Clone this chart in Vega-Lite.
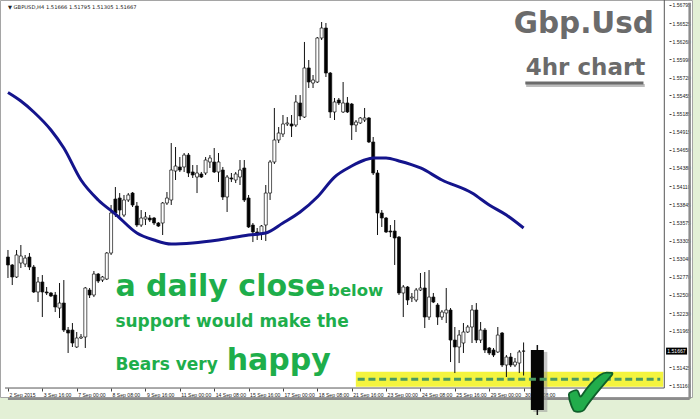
{
  "$schema": "https://vega.github.io/schema/vega-lite/v6.json",
  "width": 692,
  "height": 397,
  "autosize": {"type": "none"},
  "padding": {"left": 0, "top": 0, "right": 8, "bottom": 22},
  "background": "#e3f0d6",
  "config": {"view": {"fill": "white", "stroke": "#a5a5a5", "strokeWidth": 1}, "axis": {"labelOverlap": false}},
  "datasets": {
    "candles": [
      {"i":0,"o":1.53061,"h":1.53165,"l":1.52750,"c":1.52943},
      {"i":1,"o":1.52943,"h":1.52957,"l":1.52646,"c":1.52765},
      {"i":2,"o":1.52765,"h":1.53165,"l":1.52750,"c":1.53091},
      {"i":3,"o":1.52972,"h":1.53239,"l":1.52898,"c":1.53076},
      {"i":4,"o":1.52957,"h":1.53091,"l":1.52913,"c":1.53046},
      {"i":5,"o":1.53061,"h":1.53120,"l":1.52868,"c":1.52913},
      {"i":6,"o":1.52913,"h":1.52943,"l":1.52528,"c":1.52543},
      {"i":7,"o":1.52543,"h":1.52765,"l":1.52394,"c":1.52691},
      {"i":8,"o":1.52691,"h":1.52794,"l":1.52172,"c":1.52543},
      {"i":9,"o":1.52543,"h":1.52617,"l":1.52498,"c":1.52528},
      {"i":10,"o":1.52528,"h":1.52543,"l":1.52468,"c":1.52483},
      {"i":11,"o":1.52498,"h":1.52543,"l":1.52246,"c":1.52320},
      {"i":12,"o":1.52305,"h":1.52676,"l":1.52157,"c":1.52379},
      {"i":13,"o":1.52379,"h":1.52720,"l":1.51950,"c":1.51979},
      {"i":14,"o":1.51979,"h":1.52024,"l":1.51639,"c":1.51935},
      {"i":15,"o":1.51979,"h":1.52083,"l":1.51728,"c":1.51787},
      {"i":16,"o":1.51728,"h":1.51950,"l":1.51713,"c":1.51861},
      {"i":17,"o":1.51861,"h":1.51920,"l":1.51846,"c":1.51876},
      {"i":18,"o":1.51876,"h":1.52617,"l":1.51713,"c":1.52602},
      {"i":19,"o":1.52572,"h":1.52602,"l":1.52454,"c":1.52498},
      {"i":20,"o":1.52498,"h":1.52854,"l":1.52468,"c":1.52809},
      {"i":21,"o":1.52809,"h":1.52824,"l":1.52676,"c":1.52705},
      {"i":22,"o":1.52720,"h":1.52780,"l":1.52691,"c":1.52765},
      {"i":23,"o":1.52735,"h":1.53135,"l":1.52720,"c":1.53120},
      {"i":24,"o":1.53120,"h":1.53832,"l":1.53091,"c":1.53713},
      {"i":25,"o":1.53920,"h":1.54098,"l":1.53654,"c":1.53713},
      {"i":26,"o":1.53935,"h":1.54009,"l":1.53639,"c":1.53757},
      {"i":27,"o":1.53683,"h":1.53980,"l":1.53654,"c":1.53906},
      {"i":28,"o":1.53906,"h":1.54009,"l":1.53876,"c":1.53980},
      {"i":29,"o":1.54009,"h":1.54024,"l":1.53802,"c":1.53832},
      {"i":30,"o":1.53817,"h":1.53876,"l":1.53506,"c":1.53535},
      {"i":31,"o":1.53535,"h":1.53757,"l":1.53506,"c":1.53639},
      {"i":32,"o":1.53624,"h":1.53728,"l":1.53535,"c":1.53654},
      {"i":33,"o":1.53639,"h":1.53683,"l":1.53580,"c":1.53609},
      {"i":34,"o":1.53639,"h":1.53654,"l":1.53535,"c":1.53565},
      {"i":35,"o":1.53565,"h":1.53580,"l":1.53506,"c":1.53520},
      {"i":36,"o":1.53565,"h":1.53876,"l":1.53387,"c":1.53861},
      {"i":37,"o":1.53861,"h":1.54024,"l":1.53832,"c":1.53935},
      {"i":38,"o":1.53906,"h":1.54750,"l":1.53832,"c":1.54350},
      {"i":39,"o":1.54335,"h":1.54691,"l":1.54202,"c":1.54409},
      {"i":40,"o":1.54395,"h":1.54543,"l":1.54321,"c":1.54350},
      {"i":41,"o":1.54395,"h":1.54602,"l":1.54321,"c":1.54572},
      {"i":42,"o":1.54572,"h":1.54602,"l":1.54246,"c":1.54306},
      {"i":43,"o":1.54321,"h":1.54424,"l":1.54232,"c":1.54276},
      {"i":44,"o":1.54246,"h":1.54424,"l":1.54009,"c":1.54306},
      {"i":45,"o":1.54291,"h":1.54321,"l":1.54232,"c":1.54246},
      {"i":46,"o":1.54306,"h":1.54543,"l":1.54276,"c":1.54498},
      {"i":47,"o":1.54469,"h":1.54572,"l":1.54380,"c":1.54528},
      {"i":48,"o":1.54469,"h":1.54676,"l":1.54306,"c":1.54321},
      {"i":49,"o":1.54321,"h":1.54602,"l":1.54172,"c":1.54469},
      {"i":50,"o":1.54350,"h":1.54395,"l":1.53906,"c":1.53950},
      {"i":51,"o":1.53950,"h":1.54276,"l":1.53728,"c":1.54246},
      {"i":52,"o":1.54232,"h":1.54306,"l":1.54172,"c":1.54217},
      {"i":53,"o":1.54202,"h":1.54321,"l":1.54157,"c":1.54291},
      {"i":54,"o":1.54246,"h":1.54498,"l":1.54128,"c":1.54350},
      {"i":55,"o":1.54380,"h":1.54498,"l":1.53876,"c":1.53906},
      {"i":56,"o":1.53935,"h":1.53980,"l":1.53491,"c":1.53506},
      {"i":57,"o":1.53535,"h":1.53565,"l":1.53283,"c":1.53432},
      {"i":58,"o":1.53432,"h":1.53491,"l":1.53313,"c":1.53387},
      {"i":59,"o":1.53417,"h":1.53535,"l":1.53313,"c":1.53520},
      {"i":60,"o":1.53535,"h":1.54128,"l":1.53298,"c":1.54009},
      {"i":61,"o":1.54009,"h":1.54498,"l":1.53906,"c":1.54469},
      {"i":62,"o":1.54469,"h":1.55269,"l":1.54439,"c":1.54795},
      {"i":63,"o":1.54795,"h":1.54987,"l":1.54750,"c":1.54898},
      {"i":64,"o":1.54884,"h":1.55165,"l":1.54839,"c":1.55032},
      {"i":65,"o":1.55032,"h":1.55135,"l":1.55002,"c":1.55047},
      {"i":66,"o":1.55032,"h":1.55165,"l":1.54839,"c":1.55002},
      {"i":67,"o":1.55017,"h":1.55461,"l":1.54987,"c":1.55358},
      {"i":68,"o":1.55343,"h":1.55461,"l":1.55091,"c":1.55150},
      {"i":69,"o":1.55135,"h":1.56247,"l":1.55121,"c":1.55862},
      {"i":70,"o":1.55862,"h":1.55980,"l":1.55565,"c":1.55654},
      {"i":71,"o":1.55639,"h":1.55758,"l":1.55565,"c":1.55684},
      {"i":72,"o":1.55654,"h":1.56321,"l":1.55639,"c":1.56306},
      {"i":73,"o":1.56306,"h":1.56543,"l":1.56276,"c":1.56454},
      {"i":74,"o":1.56454,"h":1.56528,"l":1.55728,"c":1.55787},
      {"i":75,"o":1.55787,"h":1.55802,"l":1.55121,"c":1.55210},
      {"i":76,"o":1.55210,"h":1.55417,"l":1.55091,"c":1.55358},
      {"i":77,"o":1.55387,"h":1.55417,"l":1.55313,"c":1.55343},
      {"i":78,"o":1.55210,"h":1.55654,"l":1.55195,"c":1.55343},
      {"i":79,"o":1.55343,"h":1.55432,"l":1.55195,"c":1.55210},
      {"i":80,"o":1.55328,"h":1.55343,"l":1.54795,"c":1.55017},
      {"i":81,"o":1.55017,"h":1.55091,"l":1.54913,"c":1.55061},
      {"i":82,"o":1.55047,"h":1.55135,"l":1.55032,"c":1.55121},
      {"i":83,"o":1.55091,"h":1.55269,"l":1.55061,"c":1.55121},
      {"i":84,"o":1.55121,"h":1.55135,"l":1.54750,"c":1.54765},
      {"i":85,"o":1.54765,"h":1.54839,"l":1.54276,"c":1.54306},
      {"i":86,"o":1.54306,"h":1.54350,"l":1.53387,"c":1.53713},
      {"i":87,"o":1.53713,"h":1.53757,"l":1.53506,"c":1.53639},
      {"i":88,"o":1.53639,"h":1.53654,"l":1.53417,"c":1.53432},
      {"i":89,"o":1.53446,"h":1.53535,"l":1.53357,"c":1.53432},
      {"i":90,"o":1.53446,"h":1.53609,"l":1.52943,"c":1.53343},
      {"i":91,"o":1.53357,"h":1.53372,"l":1.52498,"c":1.52528},
      {"i":92,"o":1.52528,"h":1.52646,"l":1.52172,"c":1.52617},
      {"i":93,"o":1.52617,"h":1.52631,"l":1.52350,"c":1.52424},
      {"i":94,"o":1.52454,"h":1.52528,"l":1.52394,"c":1.52468},
      {"i":95,"o":1.52424,"h":1.52602,"l":1.52394,"c":1.52572},
      {"i":96,"o":1.52572,"h":1.52824,"l":1.52557,"c":1.52602},
      {"i":97,"o":1.52602,"h":1.52839,"l":1.52009,"c":1.52172},
      {"i":98,"o":1.52172,"h":1.52868,"l":1.52128,"c":1.52468},
      {"i":99,"o":1.52468,"h":1.52528,"l":1.52379,"c":1.52394},
      {"i":100,"o":1.52350,"h":1.52379,"l":1.52054,"c":1.52172},
      {"i":101,"o":1.52172,"h":1.52276,"l":1.52128,"c":1.52246},
      {"i":102,"o":1.52231,"h":1.52602,"l":1.52083,"c":1.52276},
      {"i":103,"o":1.52276,"h":1.52305,"l":1.51505,"c":1.51831},
      {"i":104,"o":1.51831,"h":1.52024,"l":1.51342,"c":1.51728},
      {"i":105,"o":1.51728,"h":1.51979,"l":1.51490,"c":1.51905},
      {"i":106,"o":1.51787,"h":1.52083,"l":1.51639,"c":1.51950},
      {"i":107,"o":1.51950,"h":1.52054,"l":1.51935,"c":1.52024},
      {"i":108,"o":1.52024,"h":1.52350,"l":1.51787,"c":1.52276},
      {"i":109,"o":1.52276,"h":1.52379,"l":1.51787,"c":1.51831},
      {"i":110,"o":1.51831,"h":1.52098,"l":1.51787,"c":1.51979},
      {"i":111,"o":1.51979,"h":1.52009,"l":1.51639,"c":1.51683},
      {"i":112,"o":1.51713,"h":1.51728,"l":1.51609,"c":1.51639},
      {"i":113,"o":1.51683,"h":1.51713,"l":1.51579,"c":1.51609},
      {"i":114,"o":1.51654,"h":1.52024,"l":1.51639,"c":1.51905},
      {"i":115,"o":1.51935,"h":1.51950,"l":1.51431,"c":1.51461},
      {"i":116,"o":1.51461,"h":1.51609,"l":1.51283,"c":1.51579},
      {"i":117,"o":1.51579,"h":1.51639,"l":1.51431,"c":1.51461},
      {"i":118,"o":1.51461,"h":1.51565,"l":1.51431,"c":1.51505},
      {"i":119,"o":1.51490,"h":1.51683,"l":1.51342,"c":1.51654},
      {"i":120,"o":1.51666,"h":1.51795,"l":1.51305,"c":1.51667}
    ],
    "ma": [
      {"i":0,"v":1.55498},{"i":3,"v":1.55372},{"i":6,"v":1.55210},{"i":10,"v":1.54943},
      {"i":13,"v":1.54676},{"i":17,"v":1.54202},{"i":21,"v":1.53906},{"i":25,"v":1.53698},
      {"i":30,"v":1.53417},{"i":34,"v":1.53313},{"i":38,"v":1.53254},{"i":43,"v":1.53269},
      {"i":49,"v":1.53313},{"i":56,"v":1.53387},{"i":60,"v":1.53417},{"i":64,"v":1.53565},
      {"i":68,"v":1.53728},{"i":72,"v":1.53950},{"i":76,"v":1.54246},{"i":80,"v":1.54409},
      {"i":83,"v":1.54498},{"i":85,"v":1.54528},{"i":88,"v":1.54528},{"i":91,"v":1.54484},
      {"i":96,"v":1.54380},{"i":101,"v":1.54202},{"i":108,"v":1.54009},{"i":112,"v":1.53832},
      {"i":116,"v":1.53683},{"i":120,"v":1.53491}
    ]
  },
  "layer": [
    {
      "data": {"values": [{}]},
      "mark": {"type": "rect", "color": "#f4f43e"},
      "encoding": {
        "x": {"datum": 80.96, "type": "quantitative", "scale": {"domain": [-0.688, 158.03], "nice": false, "zero": false}},
        "x2": {"datum": 152.5},
        "y": {"datum": 1.51362, "type": "quantitative", "scale": {"domain": [1.50987, 1.56869], "nice": false, "zero": false}},
        "y2": {"datum": 1.51139}
      }
    },
    {
      "data": {"name": "candles"},
      "mark": {"type": "rule", "color": "#111111", "strokeWidth": 1},
      "encoding": {
        "x": {"field": "i", "type": "quantitative", "scale": {"domain": [-0.688, 158.03], "nice": false, "zero": false},
          "axis": {"orient": "bottom", "offset": -9, "title": null, "domain": false, "grid": false, "tickCount": 40,
            "values": [0,8,16,24,32,40,48,56,64,72,80,88,96,104,112,120],
            "labelExpr": "['2 Sep 2015','3 Sep 16:00','7 Sep 00:00','8 Sep 08:00','9 Sep 16:00','11 Sep 00:00','14 Sep 08:00','15 Sep 16:00','17 Sep 00:00','18 Sep 08:00','21 Sep 16:00','23 Sep 00:00','24 Sep 08:00','25 Sep 16:00','29 Sep 00:00','30 Sep 08:00'][round(datum.value/8)]",
            "tickSize": 3, "tickColor": "#444444", "labelAlign": "left", "labelOffset": 1, "labelPadding": 1,
            "labelFont": "Liberation Sans", "labelFontSize": 5.1, "labelColor": "#222222",
            "labelOverlap": false, "labelFlush": false, "labelBound": false}},
        "y": {"field": "l", "type": "quantitative", "scale": {"domain": [1.50987, 1.56869], "nice": false, "zero": false},
          "axis": {"orient": "right", "offset": -23, "title": null, "domain": false, "grid": false, "tickCount": 60,
            "values": [1.56795,1.56525,1.5626,1.5599,1.5572,1.55455,1.55185,1.54915,1.5465,1.5438,1.5411,1.53845,1.53575,1.53305,1.5304,1.5277,1.525,1.5223,1.51965,1.51425,1.5116],
            "format": ".5f", "tickSize": 2, "tickColor": "#444444", "labelPadding": 1,
            "labelFont": "Liberation Sans", "labelFontSize": 5.1, "labelColor": "#222222",
            "labelOverlap": false, "labelFlush": false, "labelBound": false}},
        "y2": {"field": "h"}
      }
    },
    {
      "data": {"name": "candles"},
      "mark": {"type": "bar", "size": 3, "stroke": "#111111", "strokeWidth": 0.7},
      "encoding": {
        "x": {"field": "i", "type": "quantitative", "scale": {"domain": [-0.688, 158.03], "nice": false, "zero": false}},
        "y": {"field": "o", "type": "quantitative", "scale": {"domain": [1.50987, 1.56869], "nice": false, "zero": false}},
        "y2": {"field": "c"},
        "fill": {"condition": {"test": "datum.c >= datum.o", "value": "white"}, "value": "black"}
      }
    },
    {
      "data": {"name": "ma"},
      "mark": {"type": "line", "color": "#14148c", "strokeWidth": 3, "interpolate": "monotone"},
      "encoding": {
        "x": {"field": "i", "type": "quantitative", "scale": {"domain": [-0.688, 158.03], "nice": false, "zero": false}},
        "y": {"field": "v", "type": "quantitative", "scale": {"domain": [1.50987, 1.56869], "nice": false, "zero": false}}
      }
    },
    {
      "data": {"values": [{}]},
      "mark": {"type": "rule", "color": "#555555", "strokeWidth": 1},
      "encoding": {
        "x": {"datum": 152.75, "type": "quantitative", "scale": {"domain": [-0.688, 158.03], "nice": false, "zero": false}},
        "y": {"datum": 1.56869, "type": "quantitative", "scale": {"domain": [1.50987, 1.56869], "nice": false, "zero": false}},
        "y2": {"datum": 1.5112}
      }
    },
    {
      "data": {"values": [{}]},
      "mark": {"type": "rule", "color": "#555555", "strokeWidth": 1},
      "encoding": {
        "x": {"datum": -0.688, "type": "quantitative", "scale": {"domain": [-0.688, 158.03], "nice": false, "zero": false}},
        "x2": {"datum": 152.75},
        "y": {"datum": 1.5112, "type": "quantitative", "scale": {"domain": [1.50987, 1.56869], "nice": false, "zero": false}}
      }
    },
    {
      "data": {"values": [{}]},
      "mark": {"type": "rule", "color": "#8c8c8c", "strokeWidth": 2.5},
      "encoding": {
        "x": {"datum": 0.0, "type": "quantitative", "scale": {"domain": [-0.688, 158.03], "nice": false, "zero": false}},
        "x2": {"datum": 158.65},
        "y": {"datum": 1.50962, "type": "quantitative", "scale": {"domain": [1.50987, 1.56869], "nice": false, "zero": false}}
      }
    },
    {
      "data": {"values": [{}]},
      "mark": {"type": "rule", "color": "#8c8c8c", "strokeWidth": 2.5},
      "encoding": {
        "x": {"datum": 158.65, "type": "quantitative", "scale": {"domain": [-0.688, 158.03], "nice": false, "zero": false}},
        "y": {"datum": 1.5683, "type": "quantitative", "scale": {"domain": [1.50987, 1.56869], "nice": false, "zero": false}},
        "y2": {"datum": 1.50962}
      }
    },
    {
      "data": {"values": [{}]},
      "mark": {"type": "bar", "size": 14, "color": "#9a9a9a", "opacity": 0.55},
      "encoding": {
        "x": {"datum": 123.9, "type": "quantitative", "scale": {"domain": [-0.688, 158.03], "nice": false, "zero": false}},
        "y": {"datum": 1.51655, "type": "quantitative", "scale": {"domain": [1.50987, 1.56869], "nice": false, "zero": false}},
        "y2": {"datum": 1.50765}
      }
    },
    {
      "data": {"values": [{}]},
      "mark": {"type": "rule", "color": "#111111", "strokeWidth": 1.5},
      "encoding": {
        "x": {"datum": 123.2, "type": "quantitative", "scale": {"domain": [-0.688, 158.03], "nice": false, "zero": false}},
        "y": {"datum": 1.51757, "type": "quantitative", "scale": {"domain": [1.50987, 1.56869], "nice": false, "zero": false}},
        "y2": {"datum": 1.5072}
      }
    },
    {
      "data": {"values": [{}]},
      "mark": {"type": "bar", "size": 13, "color": "#050505"},
      "encoding": {
        "x": {"datum": 123.2, "type": "quantitative", "scale": {"domain": [-0.688, 158.03], "nice": false, "zero": false}},
        "y": {"datum": 1.51683, "type": "quantitative", "scale": {"domain": [1.50987, 1.56869], "nice": false, "zero": false}},
        "y2": {"datum": 1.50794}
      }
    },
    {
      "data": {"values": [{}]},
      "mark": {"type": "rule", "color": "#4a9a62", "strokeWidth": 3, "strokeDash": [7, 3.7]},
      "encoding": {
        "x": {"datum": 81.4, "type": "quantitative", "scale": {"domain": [-0.688, 158.03], "nice": false, "zero": false}},
        "x2": {"datum": 151.8},
        "y": {"datum": 1.51249, "type": "quantitative", "scale": {"domain": [1.50987, 1.56869], "nice": false, "zero": false}}
      }
    },
    {
      "data": {"values": [{}]},
      "mark": {"type": "text", "text": "▼ GBPUSD,H4  1.51666 1.51795 1.51305 1.51667", "font": "DejaVu Sans", "fontSize": 5.2, "color": "#222222", "align": "left", "baseline": "middle"},
      "encoding": {
        "x": {"datum": 0, "type": "quantitative", "scale": {"domain": [-0.688, 158.03], "nice": false, "zero": false}},
        "y": {"datum": 1.56765, "type": "quantitative", "scale": {"domain": [1.50987, 1.56869], "nice": false, "zero": false}}
      }
    },
    {
      "data": {"values": [{}]},
      "mark": {"type": "text", "text": "Gbp.Usd", "font": "DejaVu Sans", "fontWeight": "bold", "fontSize": 29.5, "color": "#6b6b6b", "align": "left", "baseline": "alphabetic"},
      "encoding": {
        "x": {"datum": 117.7, "type": "quantitative", "scale": {"domain": [-0.688, 158.03], "nice": false, "zero": false}},
        "y": {"datum": 1.5638, "type": "quantitative", "scale": {"domain": [1.50987, 1.56869], "nice": false, "zero": false}}
      }
    },
    {
      "data": {"values": [{}]},
      "mark": {"type": "text", "text": "4hr chart", "font": "DejaVu Sans", "fontWeight": "bold", "fontSize": 23, "color": "#6b6b6b", "align": "left", "baseline": "alphabetic"},
      "encoding": {
        "x": {"datum": 120.5, "type": "quantitative", "scale": {"domain": [-0.688, 158.03], "nice": false, "zero": false}},
        "y": {"datum": 1.55758, "type": "quantitative", "scale": {"domain": [1.50987, 1.56869], "nice": false, "zero": false}}
      }
    },
    {
      "data": {"values": [{}]},
      "mark": {"type": "rule", "color": "#bdbdbd", "strokeWidth": 3},
      "encoding": {
        "x": {"datum": 120.6, "type": "quantitative", "scale": {"domain": [-0.688, 158.03], "nice": false, "zero": false}},
        "x2": {"datum": 148.2},
        "y": {"datum": 1.55602, "type": "quantitative", "scale": {"domain": [1.50987, 1.56869], "nice": false, "zero": false}}
      }
    },
    {
      "data": {"values": [{}]},
      "mark": {"type": "rule", "color": "#6b6b6b", "strokeWidth": 3},
      "encoding": {
        "x": {"datum": 120.4, "type": "quantitative", "scale": {"domain": [-0.688, 158.03], "nice": false, "zero": false}},
        "x2": {"datum": 147.9},
        "y": {"datum": 1.55639, "type": "quantitative", "scale": {"domain": [1.50987, 1.56869], "nice": false, "zero": false}}
      }
    },
    {
      "data": {"values": [{}]},
      "mark": {"type": "text", "text": "a daily close", "font": "DejaVu Sans", "fontWeight": "bold", "fontSize": 30, "color": "#1eae4b", "align": "left", "baseline": "alphabetic"},
      "encoding": {
        "x": {"datum": 25.0, "type": "quantitative", "scale": {"domain": [-0.688, 158.03], "nice": false, "zero": false}},
        "y": {"datum": 1.52483, "type": "quantitative", "scale": {"domain": [1.50987, 1.56869], "nice": false, "zero": false}}
      }
    },
    {
      "data": {"values": [{}]},
      "mark": {"type": "text", "text": "below", "font": "DejaVu Sans", "fontWeight": "bold", "fontSize": 16.5, "color": "#1eae4b", "align": "left", "baseline": "alphabetic"},
      "encoding": {
        "x": {"datum": 74.5, "type": "quantitative", "scale": {"domain": [-0.688, 158.03], "nice": false, "zero": false}},
        "y": {"datum": 1.52483, "type": "quantitative", "scale": {"domain": [1.50987, 1.56869], "nice": false, "zero": false}}
      }
    },
    {
      "data": {"values": [{}]},
      "mark": {"type": "text", "text": "support would make the", "font": "DejaVu Sans", "fontWeight": "bold", "fontSize": 17, "color": "#1eae4b", "align": "left", "baseline": "alphabetic"},
      "encoding": {
        "x": {"datum": 25.0, "type": "quantitative", "scale": {"domain": [-0.688, 158.03], "nice": false, "zero": false}},
        "y": {"datum": 1.52024, "type": "quantitative", "scale": {"domain": [1.50987, 1.56869], "nice": false, "zero": false}}
      }
    },
    {
      "data": {"values": [{}]},
      "mark": {"type": "text", "text": "Bears very", "font": "DejaVu Sans", "fontWeight": "bold", "fontSize": 17, "color": "#1eae4b", "align": "left", "baseline": "alphabetic"},
      "encoding": {
        "x": {"datum": 25.0, "type": "quantitative", "scale": {"domain": [-0.688, 158.03], "nice": false, "zero": false}},
        "y": {"datum": 1.51387, "type": "quantitative", "scale": {"domain": [1.50987, 1.56869], "nice": false, "zero": false}}
      }
    },
    {
      "data": {"values": [{}]},
      "mark": {"type": "text", "text": "happy", "font": "DejaVu Sans", "fontWeight": "bold", "fontSize": 30, "color": "#1eae4b", "align": "left", "baseline": "alphabetic"},
      "encoding": {
        "x": {"datum": 50.9, "type": "quantitative", "scale": {"domain": [-0.688, 158.03], "nice": false, "zero": false}},
        "y": {"datum": 1.51387, "type": "quantitative", "scale": {"domain": [1.50987, 1.56869], "nice": false, "zero": false}}
      }
    },
    {
      "data": {"values": [{}]},
      "mark": {"type": "text", "text": "✔", "font": "DejaVu Sans", "fontSize": 72, "color": "#22ac4b", "stroke": "#0f5f2a", "strokeWidth": 1.8, "align": "center", "baseline": "alphabetic"},
      "encoding": {
        "x": {"datum": 135.6, "type": "quantitative", "scale": {"domain": [-0.688, 158.03], "nice": false, "zero": false}},
        "y": {"datum": 1.5068, "type": "quantitative", "scale": {"domain": [1.50987, 1.56869], "nice": false, "zero": false}}
      }
    },
    {
      "data": {"values": [{}]},
      "mark": {"type": "point", "shape": "M-1,-0.33H1V0.33H-1Z", "size": 441, "filled": true, "color": "#000000", "opacity": 1},
      "encoding": {
        "x": {"datum": 155.6, "type": "quantitative", "scale": {"domain": [-0.688, 158.03], "nice": false, "zero": false}},
        "y": {"datum": 1.51667, "type": "quantitative", "scale": {"domain": [1.50987, 1.56869], "nice": false, "zero": false}}
      }
    },
    {
      "data": {"values": [{}]},
      "mark": {"type": "text", "text": "1.51667", "font": "Liberation Sans", "fontSize": 5.1, "color": "white", "align": "left", "baseline": "middle"},
      "encoding": {
        "x": {"datum": 153.44, "type": "quantitative", "scale": {"domain": [-0.688, 158.03], "nice": false, "zero": false}},
        "y": {"datum": 1.51667, "type": "quantitative", "scale": {"domain": [1.50987, 1.56869], "nice": false, "zero": false}}
      }
    }
  ]
}
